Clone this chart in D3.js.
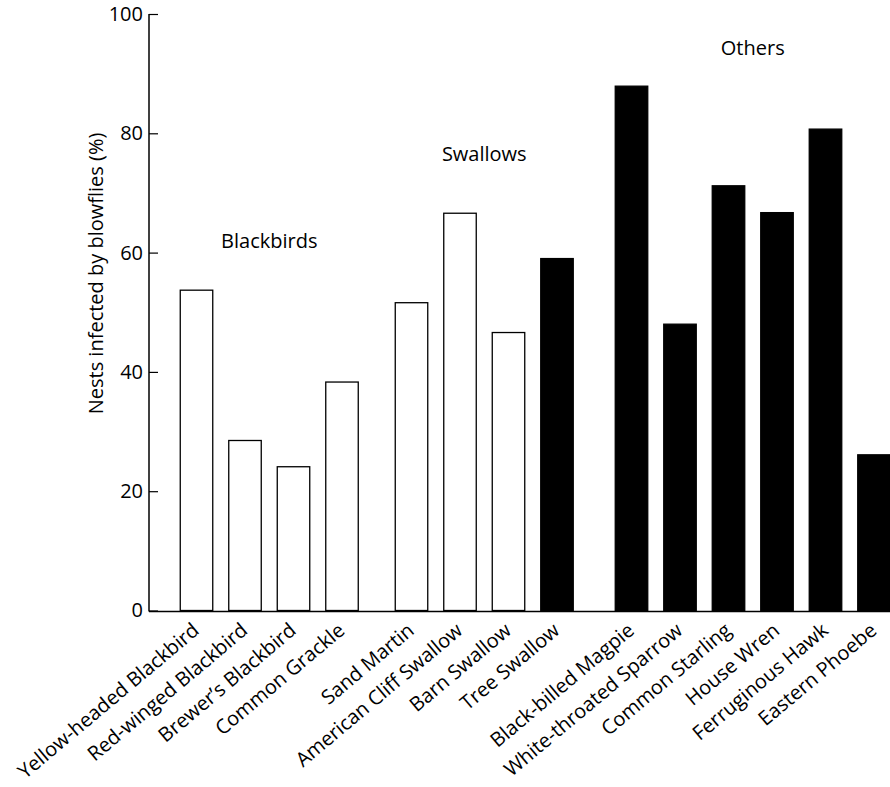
<!DOCTYPE html>
<html>
<head>
<meta charset="utf-8">
<script src="https://cdn.jsdelivr.net/npm/d3@7"></script>
<style>
  html, body { margin: 0; padding: 0; background: #fff; }
  text { font-family: "Open Sans", "Noto Sans", sans-serif; fill: #000; }
</style>
</head>
<body>
<svg id="chart" width="890" height="787"></svg>
<script>
// ---- data ----
const categories = [
  "Yellow-headed Blackbird", "Red-winged Blackbird", "Brewer's Blackbird", "Common Grackle",
  "Sand Martin", "American Cliff Swallow", "Barn Swallow", "Tree Swallow",
  "Black-billed Magpie", "White-throated Sparrow", "Common Starling", "House Wren",
  "Ferruginous Hawk", "Eastern Phoebe"
];
const values = [53.7, 28.5, 24.1, 38.3, 51.6, 66.6, 46.6, 59.0, 87.9, 48.0, 71.2, 66.7, 80.7, 26.1];
const groups = ["Blackbirds", "Swallows", "Others"];
const groupOf = [
  "Blackbirds", "Blackbirds", "Blackbirds", "Blackbirds",
  "Swallows", "Swallows", "Swallows", "Swallows",
  "Others", "Others", "Others", "Others", "Others", "Others"
];
const solidBars = ["Tree Swallow", "Black-billed Magpie", "White-throated Sparrow", "Common Starling",
  "House Wren", "Ferruginous Hawk", "Eastern Phoebe"];
const yTicks = [0, 20, 40, 60, 80, 100];
const yLabel = "Nests infected by blowflies (%)";

// ---- drawing ----
const svg = d3.select("#chart");
const axisX = 149, baseY = 610.5, topY = 14;
const fs = "20px";

const y = d3.scaleLinear().domain([0, 100]).range([baseY, topY]);
const x = d3.scaleBand().domain(categories).range([164.25, 859.25]).paddingInner(0.33).paddingOuter(0.33);
const groupShift = d3.scaleOrdinal().domain(groups).range([0, 21, 47]);
const bx = (c, i) => x(c) + groupShift(groupOf[i]);

// bars
svg.append("g").selectAll("rect").data(categories).join("rect")
  .attr("x", (c, i) => bx(c, i))
  .attr("y", (c, i) => y(values[i]))
  .attr("width", x.bandwidth())
  .attr("height", (c, i) => y(0) - y(values[i]))
  .attr("fill", c => solidBars.includes(c) ? "#000" : "#fff")
  .attr("stroke", "#000")
  .attr("stroke-width", 1.3);

// y axis
const yAxis = d3.axisLeft(y).tickValues(yTicks).tickSize(0).tickPadding(6);
const gy = svg.append("g").attr("transform", `translate(${axisX},0)`).call(yAxis);
gy.select(".domain").remove();
gy.selectAll("text").style("font-size", fs).style("font-family", "'Open Sans', sans-serif");
gy.selectAll(".tick").append("line").attr("x1", 0).attr("x2", 9).attr("stroke", "#000").attr("stroke-width", 1.2);
svg.append("line").attr("x1", axisX).attr("x2", axisX).attr("y1", y(100)).attr("y2", y(0) + 1)
  .attr("stroke", "#000").attr("stroke-width", 1.5);

// baseline
svg.append("line").attr("x1", axisX).attr("x2", 890).attr("y1", y(0) + 1).attr("y2", y(0) + 1)
  .attr("stroke", "#000").attr("stroke-width", 1.5);

// x labels
svg.append("g").selectAll("text").data(categories).join("text")
  .attr("transform", (c, i) => `translate(${bx(c, i) + x.bandwidth() / 2 + 4},${y(0) + 22}) rotate(-40)`)
  .attr("text-anchor", "end")
  .style("font-size", fs)
  .text(c => c.replace("'", "\u2019"));

// y label
svg.append("text")
  .attr("transform", `translate(103,${y(56.5)}) rotate(-90)`)
  .attr("text-anchor", "middle")
  .style("font-size", fs)
  .text(yLabel);

// group labels
const groupLabelPos = {
  "Blackbirds": { c: "Red-winged Blackbird", v: 62.0, dx: 0.5 },
  "Swallows": { c: "American Cliff Swallow", v: 76.5, dx: 0.5 },
  "Others": { c: "Common Starling", v: 94.3, dx: 0.5 }
};
svg.append("g").selectAll("text").data(groups).join("text")
  .attr("x", g => {
    const p = groupLabelPos[g]; const i = categories.indexOf(p.c);
    return bx(p.c, i) + x.bandwidth() * 0.5 + x.step() * p.dx;
  })
  .attr("y", g => y(groupLabelPos[g].v))
  .attr("dy", "0.35em")
  .attr("text-anchor", "middle")
  .style("font-size", fs)
  .text(g => g);
</script>
</body>
</html>
